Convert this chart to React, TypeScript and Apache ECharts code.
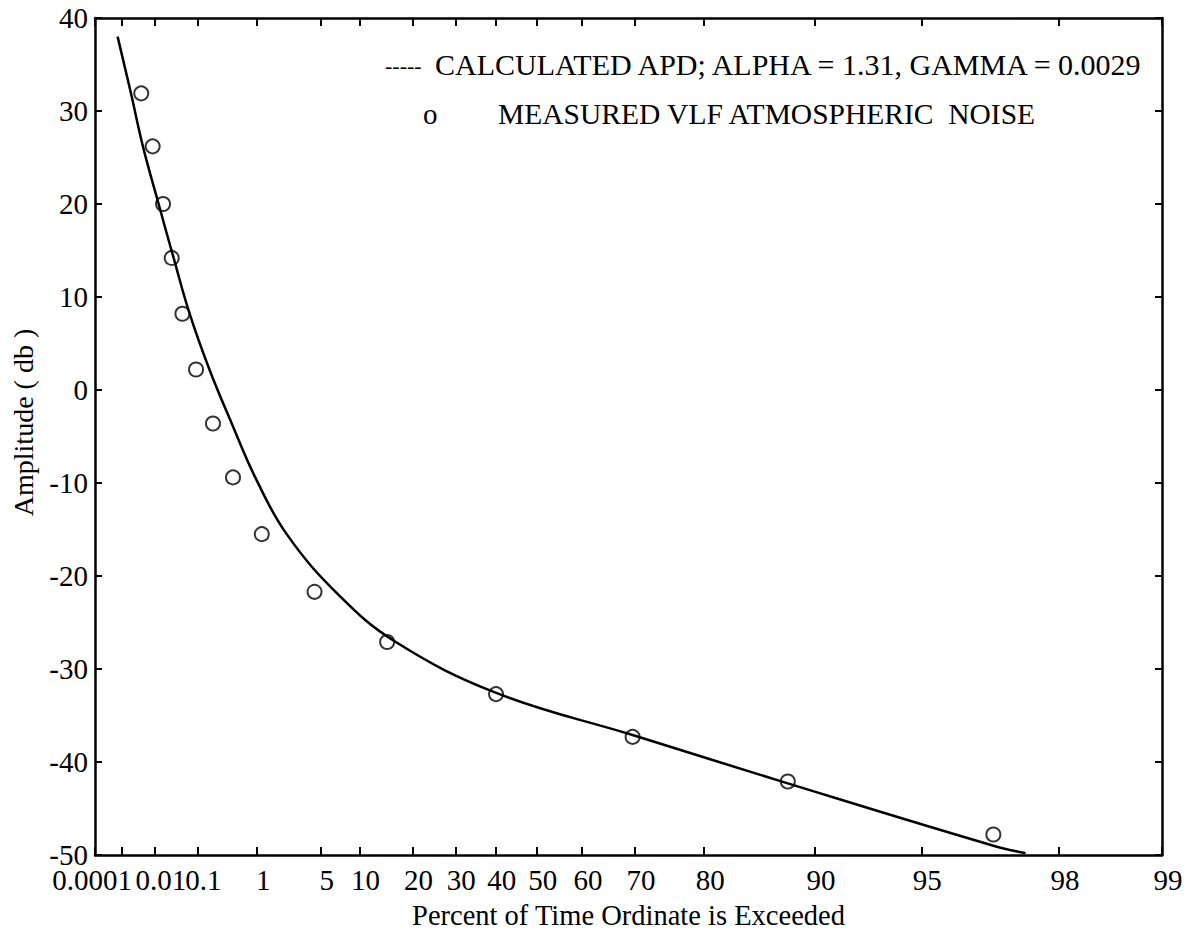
import React, { useEffect, useRef } from 'react';
import * as echarts from 'echarts';

// X axis: Rayleigh probability scale, percent of time ordinate is exceeded
const X_TICK_PERCENTS = [0.0001, 0.001, 0.01, 0.1, 1, 5, 10, 20, 30, 40, 50, 60, 70, 80, 90, 95, 98, 99];
const X_TICK_LABELS = ['0.0001', '', '0.01', '0.1', '1', '5', '10', '20', '30', '40', '50', '60', '70', '80', '90', '95', '98', '99'];

// Y axis: amplitude (dB)
const Y_MIN = -50;
const Y_MAX = 40;
const Y_STEP = 10;

// Calculated APD curve (alpha = 1.31, gamma = 0.0029)
const calcPercent = [0.00071, 0.00198, 0.0046, 0.0126, 0.03, 0.069, 0.172, 0.42, 0.94, 2.3, 7.0, 16.5, 40.3, 69.6, 88.1, 96.9, 97.5];
const calcDb = [38.0, 31.9, 26.2, 20.0, 14.2, 8.2, 2.2, -3.6, -9.4, -15.5, -22.0, -27.1, -32.6, -37.1, -42.3, -49.0, -49.8];

// Measured VLF atmospheric noise
const measuredPercent = [0.0041, 0.0087, 0.0164, 0.027, 0.048, 0.094, 0.2, 0.44, 1.15, 4.4, 14.8, 40.1, 69.6, 88.1, 96.9];
const measuredDb = [31.9, 26.2, 20.0, 14.2, 8.2, 2.2, -3.6, -9.4, -15.5, -21.7, -27.1, -32.7, -37.3, -42.1, -47.8];

const LEGEND_DASH = '-----';
const LEGEND_LINE = 'CALCULATED APD; ALPHA = 1.31, GAMMA = 0.0029';
const LEGEND_MARK = 'o';
const LEGEND_POINTS = 'MEASURED VLF ATMOSPHERIC  NOISE';
const X_NAME = 'Percent of Time Ordinate is Exceeded';
const Y_NAME = 'Amplitude ( db )';

const rayleigh = (pct: number) => -Math.log10(-Math.log(pct / 100));

const FONT = '"Liberation Serif", "Times New Roman", serif';

export default function App() {
  const ref = useRef<HTMLDivElement>(null);

  useEffect(() => {
    if (!ref.current) return;
    const chart = echarts.init(ref.current, undefined, { renderer: 'svg' });
    const xMin = rayleigh(X_TICK_PERCENTS[0]);
    const xMax = rayleigh(X_TICK_PERCENTS[X_TICK_PERCENTS.length - 1]);
    const tickValues = X_TICK_PERCENTS.map(rayleigh);
    const labelValues = X_TICK_PERCENTS.filter((_, i) => X_TICK_LABELS[i] !== '').map(rayleigh);

    const labelFor = (v: number) => {
      const i = tickValues.findIndex((t) => Math.abs(t - v) < 1e-6);
      return i >= 0 ? X_TICK_LABELS[i] : '';
    };

    const common = { fontFamily: FONT, fontSize: 29, color: '#000' };
    const axisLine = { show: true, onZero: false, lineStyle: { color: '#000', width: 2.5 } };

    const option: any = {
      animation: false,
      backgroundColor: '#fff',
      textStyle: { fontFamily: FONT, color: '#000' },
      grid: { left: 95, top: 18, right: 34, bottom: 75 },
      xAxis: [
        {
          type: 'value',
          min: xMin,
          max: xMax,
          position: 'bottom',
          name: X_NAME,
          nameLocation: 'middle',
          nameGap: 46,
          nameTextStyle: { fontFamily: FONT, fontSize: 28.5, color: '#000' },
          axisLine,
          axisTick: { show: true, inside: true, length: 8, customValues: tickValues, lineStyle: { color: '#000', width: 2 } },
          axisLabel: {
            show: true,
            margin: 10,
            customValues: labelValues,
            formatter: (v: number) => {
              const s = labelFor(v);
              if (!s) return '';
              return s === '0.0001' ? `{f|${s}}` : `{n|${s}}`;
            },
            rich: {
              f: { ...common, padding: [0, 6, 0, 0] },
              n: { ...common, padding: [0, 0, 0, 12] },
            },
          },
          splitLine: { show: false },
        },
        {
          type: 'value',
          min: xMin,
          max: xMax,
          position: 'top',
          axisLine,
          axisTick: { show: true, inside: true, length: 8, customValues: tickValues, lineStyle: { color: '#000', width: 2 } },
          axisLabel: { show: false },
          splitLine: { show: false },
        },
      ],
      yAxis: [
        {
          type: 'value',
          min: Y_MIN,
          max: Y_MAX,
          interval: Y_STEP,
          position: 'left',
          name: `{t|${Y_NAME}}`,
          nameLocation: 'middle',
          nameGap: 58,
          nameRotate: 90,
          nameTextStyle: {
            fontFamily: FONT,
            fontSize: 28,
            color: '#000',
            rich: { t: { fontFamily: FONT, fontSize: 28, color: '#000', padding: [0, 0, 0, 28] } },
          },
          axisLine,
          axisTick: { show: true, inside: true, length: 7, lineStyle: { color: '#000', width: 2 } },
          axisLabel: { ...common, margin: 7, formatter: (v: number) => String(v) },
          splitLine: { show: false },
        },
        {
          type: 'value',
          min: Y_MIN,
          max: Y_MAX,
          interval: Y_STEP,
          position: 'right',
          axisLine,
          axisTick: { show: true, inside: true, length: 7, lineStyle: { color: '#000', width: 2 } },
          axisLabel: { show: false },
          splitLine: { show: false },
        },
      ],
      series: [
        {
          name: 'CALCULATED APD',
          type: 'line',
          xAxisIndex: 0,
          yAxisIndex: 0,
          data: calcPercent.map((p, i) => [rayleigh(p), calcDb[i]]),
          showSymbol: false,
          smooth: 0.4,
          lineStyle: { color: '#000', width: 2.5 },
          z: 2,
        },
        {
          name: 'MEASURED VLF ATMOSPHERIC NOISE',
          type: 'scatter',
          xAxisIndex: 0,
          yAxisIndex: 0,
          data: measuredPercent.map((p, i) => [rayleigh(p), measuredDb[i]]),
          symbol: 'circle',
          symbolSize: 14,
          itemStyle: { color: 'rgba(0,0,0,0)', borderColor: '#000', borderWidth: 2 },
          z: 3,
        },
      ],
      graphic: [
        { type: 'text', left: 385, top: 54, style: { text: LEGEND_DASH, font: `22px ${FONT}`, fill: '#000' } },
        { type: 'text', left: 435, top: 49.5, style: { text: LEGEND_LINE, font: `30px ${FONT}`, fill: '#000' } },
        { type: 'text', left: 423, top: 99, style: { text: LEGEND_MARK, font: `29px ${FONT}`, fill: '#000' } },
        { type: 'text', left: 498, top: 98.5, style: { text: LEGEND_POINTS, font: `29.5px ${FONT}`, fill: '#000' } },
      ],
    };
    chart.setOption(option);
    return () => chart.dispose();
  }, []);

  return (
    <div
      ref={ref}
      style={{ position: 'fixed', left: 0, top: 0, width: 1196, height: 935, background: '#fff' }}
    />
  );
}
